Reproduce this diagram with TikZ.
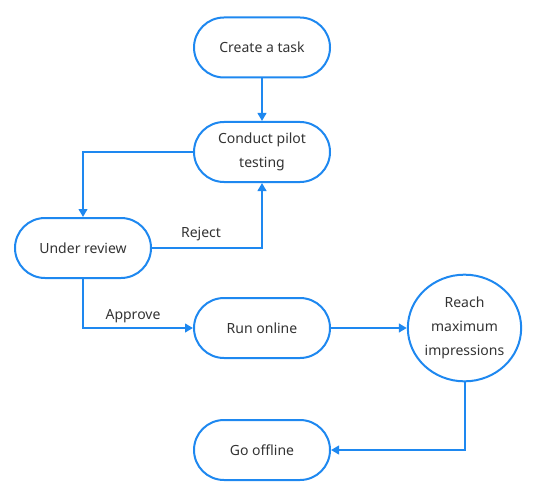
\documentclass[tikz,border=0pt]{standalone}
\usepackage{fontspec}
\setmainfont{Noto Sans}
\usetikzlibrary{arrows.meta,shapes.geometric}
\definecolor{lineblue}{HTML}{1E88F0}
\definecolor{txt}{HTML}{333333}
\tikzset{
  stadium/.style={draw=lineblue, line width=1.5pt, rounded corners=22.5pt, minimum width=102pt, minimum height=45pt, align=center, text=txt, font=\fontsize{10.5}{17.5}\selectfont, inner sep=0pt},
  oval/.style={draw=lineblue, line width=1.5pt, ellipse, minimum width=85pt, minimum height=80pt, align=center, text=txt, font=\fontsize{10.5}{18}\selectfont, inner sep=0pt},
  conn/.style={draw=lineblue, line width=1.5pt, -{Triangle[length=6pt,width=6.5pt]}},
  lbl/.style={text=txt, font=\fontsize{10.5}{12}\selectfont, inner sep=0pt}
}
\begin{document}
\begin{tikzpicture}[x=0.75pt,y=-0.75pt]
\useasboundingbox (0,0) rectangle (541,495);
\node[stadium] (create) at (262,47.5) {Create a task};
\node[stadium] (pilot) at (262,152) {Conduct pilot\\testing};
\node[stadium] (review) at (83,248) {Under review};
\node[stadium] (run) at (262,328) {Run online};
\node[oval] (reach) at (464.5,328) {Reach\\maximum\\impressions};
\node[stadium] (off) at (262,450) {Go offline};
\draw[conn] (create) -- (pilot);
\draw[conn] (pilot.west) -| (review.north);
\draw[conn] (review.east) -| (pilot.south);
\draw[conn] (review.south) |- (run.west);
\draw[conn] (run.east) -- (reach.west);
\draw[conn] (reach.south) |- (off.east);
\node[lbl] (rej) at (201,234) {Reject};
\node[lbl] (appr) at (133,316) {Approve};
\end{tikzpicture}
\end{document}
